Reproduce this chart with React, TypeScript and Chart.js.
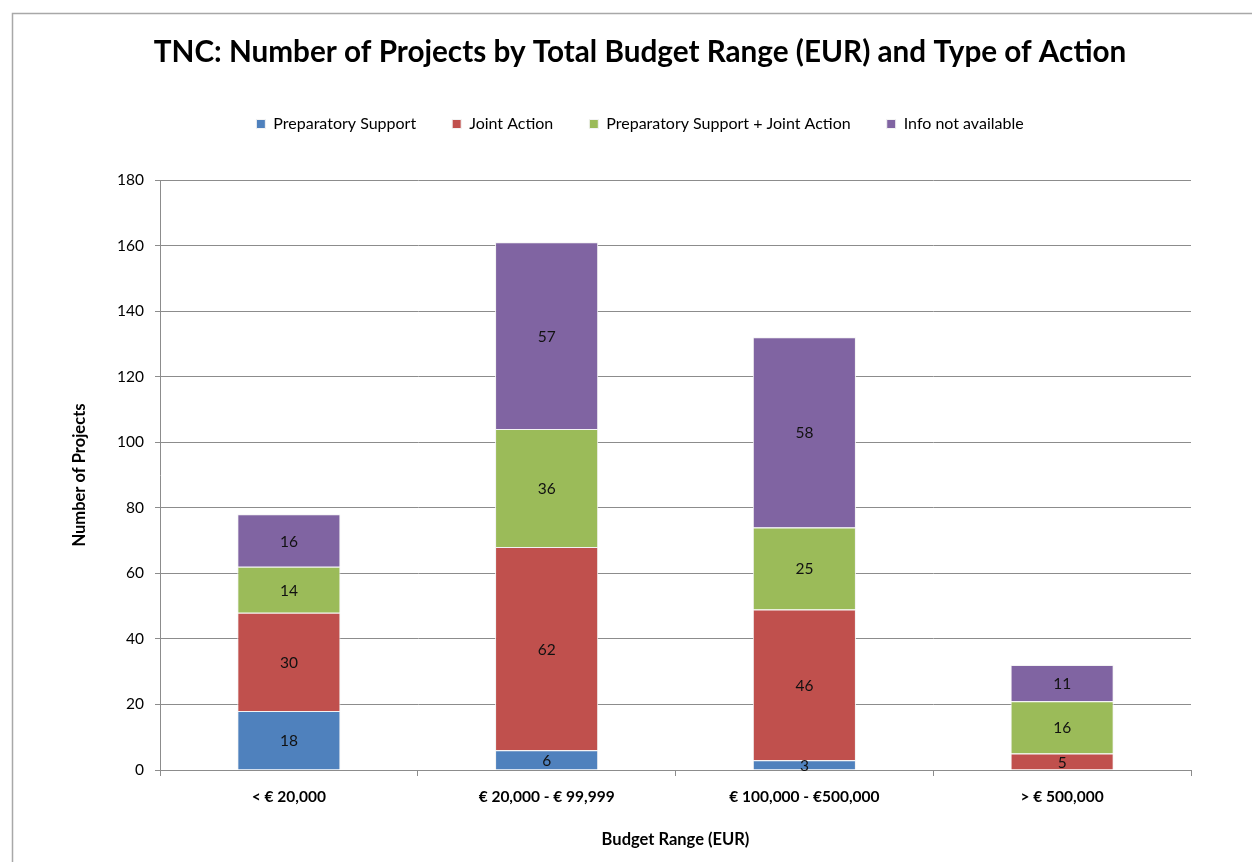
import React, { useEffect, useRef } from 'react';
import { Chart, registerables } from 'chart.js';

Chart.register(...registerables);

const categories = ['< € 20,000', '€ 20,000 - € 99,999', '€ 100,000 - €500,000', '> € 500,000'];
const preparatorySupport = [18, 6, 3, 0];
const jointAction = [30, 62, 46, 5];
const prepPlusJoint = [14, 36, 25, 16];
const infoNotAvailable = [16, 57, 58, 11];
const seriesNames = ['Preparatory Support', 'Joint Action', 'Preparatory Support + Joint Action', 'Info not available'];
const seriesColors = ['#4F81BD', '#C0504D', '#9BBB59', '#8064A2'];
const yMin = 0;
const yMax = 180;
const yStep = 20;

const titleText = 'TNC: Number of Projects by Total Budget Range (EUR) and Type of Action';
const xTitle = 'Budget Range (EUR)';
const yTitle = 'Number of Projects';

const W = 1280;
const H = 862;
const FONT = 'Lato, "Open Sans", sans-serif';

const framePlugin = {
  id: 'frame',
  beforeDraw(chart: any) {
    const ctx = chart.ctx;
    ctx.save();
    ctx.fillStyle = '#ffffff';
    ctx.fillRect(0, 0, chart.width, chart.height);
    ctx.strokeStyle = '#a8a8a8';
    ctx.lineWidth = 1.5;
    ctx.strokeRect(12.5, 13.5, chart.width - 25, chart.height + 20);
    ctx.restore();
  },
};

const labelPlugin = {
  id: 'segLabels',
  afterDatasetsDraw(chart: any) {
    const ctx = chart.ctx;
    ctx.save();
    ctx.font = `15.5px ${FONT}`;
    ctx.fillStyle = '#111111';
    ctx.textAlign = 'center';
    ctx.textBaseline = 'middle';
    chart.data.datasets.forEach((ds: any, di: number) => {
      const meta = chart.getDatasetMeta(di);
      meta.data.forEach((el: any, i: number) => {
        const v = ds.data[i];
        if (!v) return;
        const y = (el.y + el.base) / 2;
        ctx.fillText(String(v), el.x, y + 1);
      });
    });
    ctx.restore();
  },
};

export default function App() {
  const ref = useRef<HTMLCanvasElement | null>(null);

  useEffect(() => {
    if (!ref.current) return;
    const series = [preparatorySupport, jointAction, prepPlusJoint, infoNotAvailable];
    const chart = new Chart(ref.current, {
      type: 'bar',
      data: {
        labels: categories,
        datasets: series.map((d, i) => ({
          label: seriesNames[i],
          data: d,
          backgroundColor: seriesColors[i],
          borderColor: '#f3f3f3',
          borderWidth: 1,
          barPercentage: 0.4,
          categoryPercentage: 1,
          yAxisID: 'y',
        })),
      },
      options: {
        animation: false,
        responsive: false,
        events: [],
        layout: { padding: { left: 0, right: 0, top: 0, bottom: 8.1 } },
        plugins: {
          title: {
            display: true,
            text: titleText,
            color: '#000000',
            font: { family: FONT, size: 29.7, weight: 'bold', lineHeight: 1.2 },
            padding: { top: 34.2, bottom: 10.16 },
          },
          subtitle: {
            display: true,
            text: '',
            weight: 500,
            font: { size: 10, lineHeight: 1.2 },
            padding: { top: 0, bottom: 26 },
          } as any,
          legend: {
            display: true,
            position: 'top',
            labels: {
              boxWidth: 9,
              boxHeight: 9,
              padding: 36,
              color: '#000000',
              font: { family: FONT, size: 16 },
            },
          },
          tooltip: { enabled: false },
        },
        scales: {
          x: {
            stacked: true,
            grid: {
              drawOnChartArea: false,
              drawTicks: true,
              tickLength: 6,
              color: '#8c8c8c',
            },
            border: { color: '#8c8c8c', width: 1 },
            ticks: {
              color: '#000000',
              padding: 12,
              font: { family: FONT, size: 15.5, weight: 'bold' },
              maxRotation: 0,
            },
            title: {
              display: true,
              text: xTitle,
              color: '#000000',
              font: { family: FONT, size: 16.5, weight: 'bold', lineHeight: 1.2 },
              padding: { top: 4, bottom: 4 },
            },
            afterFit(scale: any) {
              scale.height = 83.9;
            },
          },
          y: {
            stacked: true,
            position: 'left',
            min: yMin,
            max: yMax,
            grid: {
              color: '#8c8c8c',
              drawTicks: true,
              tickLength: 5,
            },
            border: { color: '#8c8c8c', width: 1 },
            ticks: {
              stepSize: yStep,
              color: '#000000',
              padding: 11,
              font: { family: FONT, size: 15.5 },
            },
            title: {
              display: true,
              text: yTitle,
              color: '#000000',
              font: { family: FONT, size: 16.5, weight: 'bold', lineHeight: 1.2 },
              padding: { top: 70.1, bottom: 4 },
            },
            afterFit(scale: any) {
              scale.width = 160;
            },
          },
          yRight: {
            type: 'linear',
            position: 'right',
            min: yMin,
            max: yMax,
            display: true,
            grid: { display: false, drawTicks: false },
            border: { display: false },
            ticks: { display: false },
            afterFit(scale: any) {
              scale.width = W - 1191;
            },
          },
        },
      } as any,
      plugins: [framePlugin, labelPlugin],
    });
    return () => chart.destroy();
  }, []);

  return (
    <div style={{ position: 'absolute', left: 0, top: 0, width: 1252, height: H, overflow: 'hidden', background: '#fff' }}>
      <canvas ref={ref} width={W} height={H} style={{ width: W, height: H, display: 'block' }} />
    </div>
  );
}
